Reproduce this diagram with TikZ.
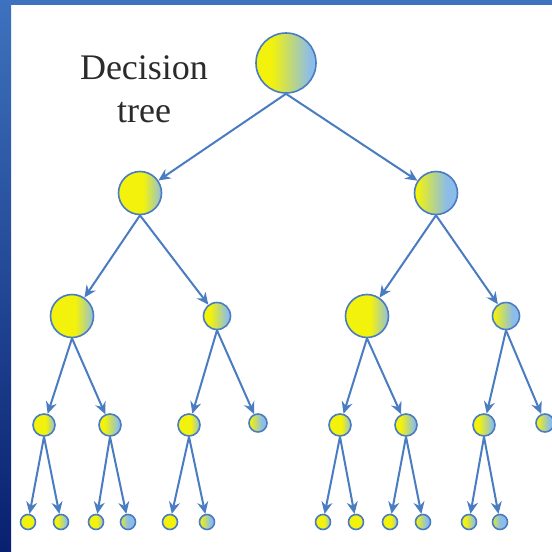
\documentclass[tikz,border=0pt]{standalone}
\usepackage{fontspec}
\setmainfont{Liberation Serif}
\usetikzlibrary{arrows.meta}
\definecolor{ylw}{HTML}{F2F20C}
\definecolor{lbl}{HTML}{8CBDE8}
\definecolor{edgeblue}{HTML}{4A7CC2}
\definecolor{bordtop}{HTML}{3E72BE}
\definecolor{bordbot}{HTML}{08206F}
\definecolor{txtgray}{HTML}{2B2B2B}
\pgfdeclarehorizontalshading{shY}{100bp}{color(0bp)=(ylw); color(68bp)=(ylw); color(80bp)=(lbl); color(100bp)=(lbl)}
\pgfdeclarehorizontalshading{shA}{100bp}{color(0bp)=(ylw); color(54bp)=(ylw); color(76bp)=(lbl); color(100bp)=(lbl)}
\pgfdeclarehorizontalshading{shB}{100bp}{color(0bp)=(ylw); color(38bp)=(ylw); color(70bp)=(lbl); color(100bp)=(lbl)}
\pgfdeclarehorizontalshading{shC}{100bp}{color(0bp)=(ylw); color(28bp)=(ylw); color(62bp)=(lbl); color(100bp)=(lbl)}
\pgfdeclarehorizontalshading{shD}{100bp}{color(0bp)=(ylw); color(20bp)=(ylw); color(50bp)=(lbl); color(100bp)=(lbl)}
\tikzset{
  tn/.style={circle, draw=edgeblue, line width=1.6pt, inner sep=0pt, shading=#1},
  big/.style={tn=#1, minimum size=60pt},
  mid/.style={tn=#1, minimum size=43pt},
  sml/.style={tn=#1, minimum size=27pt},
  lf3/.style={tn=#1, minimum size=22pt},
  lf3s/.style={tn=#1, minimum size=18pt},
  lf4/.style={tn=#1, minimum size=15pt},
  arr/.style={draw=edgeblue, line width=2pt, -{Stealth[length=12pt,width=11pt,inset=4pt]}},
  title/.style={align=center, text=txtgray, font=\fontsize{36}{43}\selectfont, inner sep=0pt}
}
\begin{document}
\begin{tikzpicture}[x=1pt,y=-1pt]
\useasboundingbox (0,0) rectangle (552,552);
\fill[white] (0,0) rectangle (552,552);
\shade[top color=bordtop, bottom color=bordbot] (0,0) rectangle (11,552);
\fill[bordtop] (0,0) rectangle (552,5);
\node[title] (t) at (144,89) {Decision\\tree};
% nodes
\node[big=shB] (r) at (286,63) {};
\node[mid=shA] (a) at (140,193) {};
\node[mid=shC] (b) at (436,193) {};
\node[mid=shA] (aa) at (72,316) {};
\node[sml=shB] (ab) at (217,316) {};
\node[mid=shA] (ba) at (367,316) {};
\node[sml=shC] (bb) at (506,316) {};
\node[lf3=shA] (aaa) at (44,425) {};
\node[lf3=shB] (aab) at (110,425) {};
\node[lf3=shA] (aba) at (189,425) {};
\node[lf3s=shC] (abb) at (258,423) {};
\node[lf3=shA] (baa) at (340,425) {};
\node[lf3=shB] (bab) at (406,425) {};
\node[lf3=shB] (bba) at (484,425) {};
\node[lf3s=shC] (bbb) at (545,423) {};
\node[lf4=shY] (l1) at (28,522) {};
\node[lf4=shB] (l2) at (61,522) {};
\node[lf4=shA] (l3) at (96,522) {};
\node[lf4=shD] (l4) at (128,522) {};
\node[lf4=shY] (l5) at (170,522) {};
\node[lf4=shC] (l6) at (207,522) {};
\node[lf4=shA] (l7) at (323,522) {};
\node[lf4=shY] (l8) at (356,522) {};
\node[lf4=shA] (l9) at (390,522) {};
\node[lf4=shC] (l10) at (423,522) {};
\node[lf4=shB] (l11) at (469,522) {};
\node[lf4=shD] (l12) at (500,522) {};
% edges
\draw[arr] (r.south) -- (a);
\draw[arr] (r.south) -- (b);
\draw[arr] (a.south) -- (aa);
\draw[arr] (a.south) -- (ab);
\draw[arr] (b.south) -- (ba);
\draw[arr] (b.south) -- (bb);
\draw[arr] (aa.south) -- (aaa);
\draw[arr] (aa.south) -- (aab);
\draw[arr] (ab.south) -- (aba);
\draw[arr] (ab.south) -- (abb);
\draw[arr] (ba.south) -- (baa);
\draw[arr] (ba.south) -- (bab);
\draw[arr] (bb.south) -- (bba);
\draw[arr] (bb.south) -- (bbb);
\draw[arr] (aaa.south) -- (l1);
\draw[arr] (aaa.south) -- (l2);
\draw[arr] (aab.south) -- (l3);
\draw[arr] (aab.south) -- (l4);
\draw[arr] (aba.south) -- (l5);
\draw[arr] (aba.south) -- (l6);
\draw[arr] (baa.south) -- (l7);
\draw[arr] (baa.south) -- (l8);
\draw[arr] (bab.south) -- (l9);
\draw[arr] (bab.south) -- (l10);
\draw[arr] (bba.south) -- (l11);
\draw[arr] (bba.south) -- (l12);
\end{tikzpicture}
\end{document}
